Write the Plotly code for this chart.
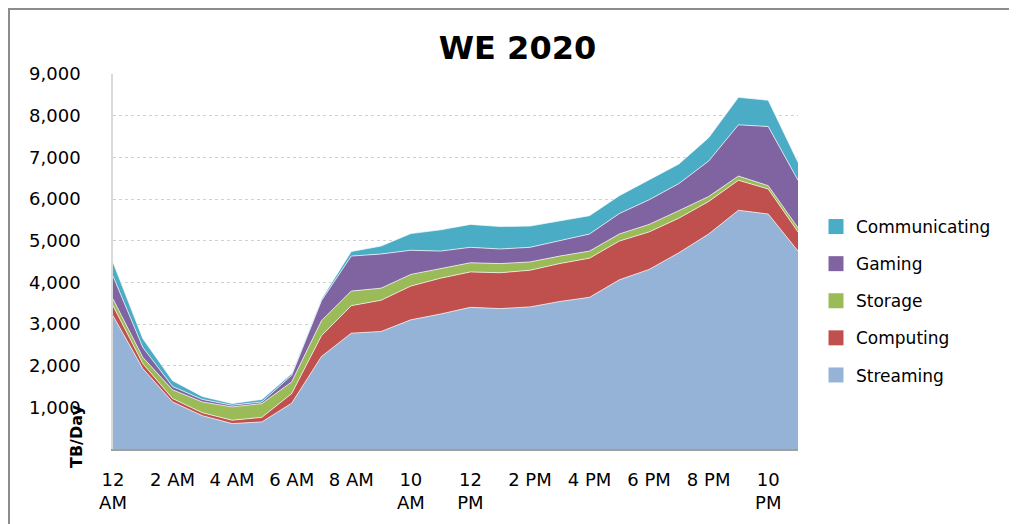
import plotly.graph_objects as go

hours = ["12 AM", "1 AM", "2 AM", "3 AM", "4 AM", "5 AM", "6 AM", "7 AM", "8 AM", "9 AM",
         "10 AM", "11 AM", "12 PM", "1 PM", "2 PM", "3 PM", "4 PM", "5 PM", "6 PM", "7 PM",
         "8 PM", "9 PM", "10 PM", "11 PM"]

streaming = [3200, 1930, 1130, 800, 610, 650, 1100, 2220, 2780, 2820, 3100, 3240,
             3400, 3370, 3410, 3540, 3640, 4060, 4310, 4710, 5160, 5730, 5640, 4750]
computing = [240, 120, 80, 70, 80, 110, 230, 500, 660, 750, 810, 860,
             850, 860, 880, 910, 940, 930, 900, 830, 780, 720, 600, 460]
storage = [160, 150, 210, 260, 320, 330, 280, 360, 350, 290, 280, 230,
           220, 220, 200, 180, 170, 170, 180, 180, 120, 100, 80, 100]
gaming = [550, 240, 80, 60, 40, 40, 160, 480, 840, 820, 580, 420,
          370, 350, 350, 370, 410, 490, 590, 650, 850, 1230, 1420, 1140]
communicating = [330, 210, 140, 70, 40, 60, 40, 40, 110, 190, 400, 510,
                 550, 540, 510, 470, 440, 430, 480, 470, 560, 660, 630, 430]

tick_labels = ["12<br>AM", "2 AM", "4 AM", "6 AM", "8 AM", "10<br>AM", "12<br>PM",
               "2 PM", "4 PM", "6 PM", "8 PM", "10<br>PM"]
y_ticks = [1000, 2000, 3000, 4000, 5000, 6000, 7000, 8000, 9000]

series = [
    ("Streaming", streaming, "#95B3D7"),
    ("Computing", computing, "#C0504D"),
    ("Storage", storage, "#9BBB59"),
    ("Gaming", gaming, "#8064A2"),
    ("Communicating", communicating, "#4BACC6"),
]

x_idx = list(range(len(hours)))
fig = go.Figure()
for name, vals, col in series:
    fig.add_trace(go.Scatter(
        x=x_idx, y=vals, name=name, stackgroup="one", mode="lines",
        line=dict(width=0.8, color="rgba(255,255,255,0.85)"),
        fillcolor=col, showlegend=False, hoverinfo="skip",
    ))
for name, vals, col in reversed(series):
    fig.add_trace(go.Scatter(
        x=[None], y=[None], name=name, mode="markers", legendgroup=name,
        marker=dict(symbol="square", size=15, color=col),
    ))

F = "DejaVu Sans"
# page body has an 8px margin; work in page pixels and shift
OX, OY = 8, 8
W, H = 1009, 516
L, R, T, B = 113 - OX, W - (798 - OX), 74 - OY, H - (449 - OY)
pw, ph = W - L - R, H - T - B


def px(xp):
    return (xp - OX - L) / pw


def py(yp):
    return (H - B - (yp - OY)) / ph


fig.update_layout(
    width=W, height=H,
    margin=dict(l=L, r=R, t=T, b=B),
    paper_bgcolor="white", plot_bgcolor="white",
    font=dict(family=F, size=17, color="black"),
    title=dict(text="<b>WE 2020</b>", x=px(517.5), xref="paper", xanchor="center",
               y=1 - (48 - OY) / H, yanchor="middle", font=dict(family=F, size=32, color="black")),
    legend=dict(x=px(816), y=py(209), xanchor="left", yanchor="top",
                traceorder="grouped", tracegroupgap=12,
                font=dict(family=F, size=17, color="black"), bgcolor="rgba(0,0,0,0)"),
    xaxis=dict(range=[0, 23], tickvals=x_idx[::2], ticktext=tick_labels,
               showgrid=False, showline=True, linecolor="#A0A0A0", linewidth=2,
               ticks="", ticklabelstandoff=13, zeroline=False,
               tickfont=dict(family=F, size=18)),
    yaxis=dict(range=[0, 9000], tickvals=y_ticks, tickformat=",",
               showgrid=True, gridcolor="#D0D0D0", griddash="dot", gridwidth=1,
               showline=True, linecolor="#D9D9D9", linewidth=1.5,
               ticks="", ticklabelstandoff=27, zeroline=False,
               tickfont=dict(family=F, size=18)),
    shapes=[
        dict(type="line", xref="paper", yref="paper", x0=px(8), x1=px(1030),
             y0=py(9), y1=py(9), line=dict(color="#8C8C8C", width=2)),
        dict(type="line", xref="paper", yref="paper", x0=px(9), x1=px(9),
             y0=py(9), y1=py(540), line=dict(color="#8C8C8C", width=2)),
    ],
    annotations=[
        dict(text="<b>TB/Day</b>", xref="paper", yref="paper", x=px(76), y=py(436),
             textangle=-90, showarrow=False, xanchor="center", yanchor="middle",
             font=dict(family=F, size=16, color="black")),
    ],
)

fig.write_html("out.html")
